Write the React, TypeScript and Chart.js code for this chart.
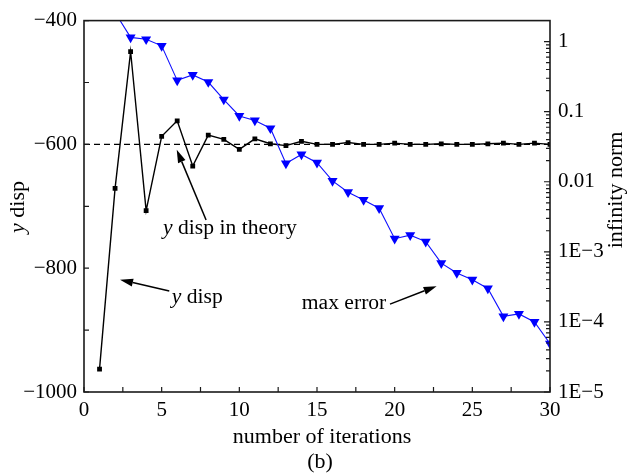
import React, { useEffect, useRef } from 'react';
import { Chart, registerables } from 'chart.js';

Chart.register(...registerables);

// ---------------- data ----------------
const iterations = [1, 2, 3, 4, 5, 6, 7, 8, 9, 10, 11, 12, 13, 14, 15, 16, 17, 18, 19, 20, 21, 22, 23, 24, 25, 26, 27, 28, 29, 30];
const yDisp = [-963, -671, -450, -707, -587, -562, -635, -585, -592, -608, -591, -599, -602, -595, -600, -600, -597, -600, -600, -598, -600, -600, -599, -600, -600, -599, -598, -600, -598, -600];
const maxError = [8, 2.6, 1.15, 1.08, 0.87, 0.28, 0.335, 0.265, 0.149, 0.087, 0.075, 0.058, 0.0183, 0.0245, 0.0187, 0.0103, 0.0071, 0.0055, 0.0042, 0.00154, 0.00173, 0.0014, 0.00069, 0.0005, 0.0004, 0.0003, 0.00012, 0.00013, 0.0001, 0.000049];
const yDispTheory = -600;
const xRange = [0, 30];
const leftTicks = [-1000, -900, -800, -700, -600, -500, -400];
const leftTickLabels = [-1000, -800, -600, -400];
const rightTicks = [1e-5, 1e-4, 1e-3, 1e-2, 1e-1, 1];
const rightTickLabels = ['1E\u22125', '1E\u22124', '1E\u22123', '0.01', '0.1', '1'];
const xTicks = [0, 5, 10, 15, 20, 25, 30];

// annotations (data units: x = iteration, y = y disp)
const annotTexts = [
  { parts: [{ t: 'y', it: true }, { t: ' disp in theory', it: false }], x: 5.09, y: -745.5 },
  { parts: [{ t: 'y', it: true }, { t: ' disp', it: false }], x: 5.65, y: -856 },
  { parts: [{ t: 'max error', it: false }], x: 14.02, y: -866 },
];
const annotArrows = [
  { from: [7.86, -722], to: [5.97, -608.5] },
  { from: [5.49, -837], to: [2.32, -818.5] },
  { from: [19.7, -858], to: [22.7, -829] },
];

const SERIF = "'Liberation Serif', 'Times New Roman', serif";

function drawRich(ctx: CanvasRenderingContext2D, parts: { t: string; it: boolean }[], x: number, y: number, size: number, center = false) {
  const fonts = parts.map((p) => `${p.it ? 'italic ' : ''}${size}px ${SERIF}`);
  let total = 0;
  const widths = parts.map((p, i) => {
    ctx.font = fonts[i];
    const w = ctx.measureText(p.t).width;
    total += w;
    return w;
  });
  let cx = center ? x - total / 2 : x;
  parts.forEach((p, i) => {
    ctx.font = fonts[i];
    ctx.fillText(p.t, cx, y);
    cx += widths[i];
  });
}

const decorPlugin = {
  id: 'decor',
  afterDraw(chart: any) {
    const { ctx, chartArea: a, scales } = chart;
    const xs = scales.x;
    const yl = scales.y;
    const yr = scales.y2;
    ctx.save();
    // frame
    ctx.strokeStyle = '#1a1a1a';
    ctx.lineWidth = 1.6;
    ctx.strokeRect(a.left, a.top, a.right - a.left, a.bottom - a.top);
    // ticks
    ctx.lineWidth = 1.2;
    ctx.beginPath();
    leftTicks.forEach((v) => {
      const py = yl.getPixelForValue(v);
      ctx.moveTo(a.left, py);
      ctx.lineTo(a.left + 5, py);
    });
    for (let v = xRange[0]; v <= xRange[1]; v += 2.5) {
      const px = xs.getPixelForValue(v);
      ctx.moveTo(px, a.bottom);
      ctx.lineTo(px, a.bottom - 5);
    }
    for (let e = -5; e <= 0; e++) {
      for (let m = 1; m <= 9; m++) {
        const v = m * Math.pow(10, e);
        if (v > yr.max) break;
        const py = yr.getPixelForValue(v);
        const len = m === 1 ? 6 : 4;
        ctx.moveTo(a.right, py);
        ctx.lineTo(a.right - len, py);
      }
    }
    ctx.stroke();

    // annotation texts
    ctx.fillStyle = '#000';
    ctx.textBaseline = 'alphabetic';
    ctx.textAlign = 'left';
    annotTexts.forEach((t) => {
      drawRich(ctx, t.parts, xs.getPixelForValue(t.x), yl.getPixelForValue(t.y), 21.6);
    });
    // arrows
    ctx.strokeStyle = '#000';
    ctx.lineWidth = 1.5;
    annotArrows.forEach((ar) => {
      const x1 = xs.getPixelForValue(ar.from[0]);
      const y1 = yl.getPixelForValue(ar.from[1]);
      const x2 = xs.getPixelForValue(ar.to[0]);
      const y2 = yl.getPixelForValue(ar.to[1]);
      const ang = Math.atan2(y2 - y1, x2 - x1);
      const hl = 13, hw = 4;
      const bx = x2 - Math.cos(ang) * hl;
      const by = y2 - Math.sin(ang) * hl;
      ctx.beginPath();
      ctx.moveTo(x1, y1);
      ctx.lineTo(bx, by);
      ctx.stroke();
      ctx.beginPath();
      ctx.moveTo(x2, y2);
      ctx.lineTo(bx + Math.sin(ang) * hw, by - Math.cos(ang) * hw);
      ctx.lineTo(bx - Math.sin(ang) * hw, by + Math.cos(ang) * hw);
      ctx.closePath();
      ctx.fill();
    });

    // axis titles
    ctx.textBaseline = 'alphabetic';
    drawRich(ctx, [{ t: 'number of iterations', it: false }], (a.left + a.right) / 2 + 5, 443, 22, true);
    drawRich(ctx, [{ t: '(b)', it: false }], (a.left + a.right) / 2 + 3, 468, 22, true);
    ctx.textBaseline = 'middle';
    ctx.save();
    ctx.translate(18, 207);
    ctx.rotate(-Math.PI / 2);
    drawRich(ctx, [{ t: 'y', it: true }, { t: ' disp', it: false }], 0, 0, 22, true);
    ctx.restore();
    ctx.save();
    ctx.translate(616, 190);
    ctx.rotate(-Math.PI / 2);
    drawRich(ctx, [{ t: 'infinity norm', it: false }], 0, 0, 22, true);
    ctx.restore();
    ctx.restore();
  },
};

export default function App() {
  const ref = useRef<HTMLCanvasElement | null>(null);
  useEffect(() => {
    if (!ref.current) return;
    const tickFont = { family: SERIF, size: 21 };
    const chart = new Chart(ref.current, {
      type: 'line',
      data: {
        datasets: [
          {
            label: 'max error',
            data: iterations.map((x, i) => ({ x, y: maxError[i] })),
            yAxisID: 'y2',
            borderColor: '#1010ff',
            backgroundColor: '#0000ff',
            borderWidth: 1.1,
            pointStyle: 'triangle',
            pointRotation: 180,
            pointRadius: 5.8,
            pointBorderWidth: 0,
            pointBackgroundColor: '#0000ff',
            tension: 0,
          },
          {
            label: 'y disp',
            data: iterations.map((x, i) => ({ x, y: yDisp[i] })),
            yAxisID: 'y',
            borderColor: '#000',
            backgroundColor: '#000',
            borderWidth: 1.4,
            pointStyle: 'rect',
            pointRadius: 3.4,
            pointBorderWidth: 0,
            pointBackgroundColor: '#000',
            tension: 0,
          },
          {
            label: 'y disp in theory',
            data: [{ x: xRange[0], y: yDispTheory }, { x: xRange[1], y: yDispTheory }],
            yAxisID: 'y',
            borderColor: '#000',
            borderWidth: 1.4,
            borderDash: [6, 4],
            pointRadius: 0,
          },
        ],
      },
      options: {
        animation: false,
        responsive: false,
        events: [],
        layout: { padding: { top: 16, left: 0, right: 0, bottom: 0 } },
        plugins: { legend: { display: false }, tooltip: { enabled: false }, title: { display: false } },
        scales: {
          x: {
            type: 'linear',
            min: xRange[0],
            max: xRange[1],
            grid: { display: false, drawTicks: false },
            border: { display: false },
            afterBuildTicks: (s: any) => { s.ticks = xTicks.map((v) => ({ value: v })); },
            afterFit: (s: any) => { s.height = 81; },
            ticks: { font: tickFont, color: '#000', padding: 6, maxRotation: 0, autoSkip: false },
          },
          y: {
            type: 'linear',
            position: 'left',
            min: leftTicks[0],
            max: leftTicks[leftTicks.length - 1],
            grid: { display: false, drawTicks: false },
            border: { display: false },
            afterBuildTicks: (s: any) => { s.ticks = leftTickLabels.map((v) => ({ value: v })); },
            afterFit: (s: any) => { s.width = 84; },
            ticks: {
              font: tickFont,
              color: '#000',
              padding: 7,
              autoSkip: false,
              callback: (v: any) => String(v).replace('-', '\u2212'),
            },
          },
          y2: {
            type: 'logarithmic',
            position: 'right',
            min: 1e-5,
            max: Math.pow(10, 0.3),
            grid: { display: false, drawTicks: false },
            border: { display: false },
            afterBuildTicks: (s: any) => { s.ticks = rightTicks.map((v) => ({ value: v })); },
            afterFit: (s: any) => { s.width = 79; },
            ticks: {
              font: tickFont,
              color: '#000',
              padding: 8,
              autoSkip: false,
              callback: (v: any) => {
                const i = rightTicks.findIndex((t) => Math.abs(Math.log10(t) - Math.log10(v)) < 1e-6);
                return i >= 0 ? rightTickLabels[i] : '';
              },
            },
          },
        },
      },
      plugins: [decorPlugin],
    } as any);
    return () => chart.destroy();
  }, []);
  return (
    <div style={{ position: 'fixed', left: 0, top: 0, width: 629, height: 473, background: '#fff' }}>
      <canvas ref={ref} width={629} height={473} />
    </div>
  );
}
